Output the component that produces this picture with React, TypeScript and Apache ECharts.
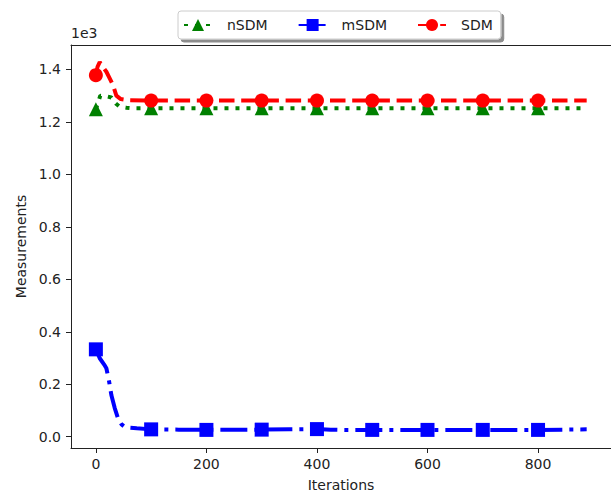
import React, { useEffect, useRef } from "react";
import * as echarts from "echarts";

// Iterations sampled for each method (dense near the start, sparse on the plateau)
const nsdmIter = [0, 8, 18, 28, 36, 43, 55, 65, 100, 200, 300, 400, 500, 600, 700, 800, 888];
const nsdmVal = [1248, 1300, 1298, 1293, 1270, 1258, 1254, 1252, 1252, 1252, 1252, 1252, 1252, 1252, 1252, 1252, 1252];

const msdmIter = [0, 7, 15, 19, 24, 28, 34, 40, 46, 52, 62, 74, 100, 150, 200, 300, 350, 400, 425, 450, 500, 600, 700, 800, 888];
const msdmVal = [333, 299, 275, 261, 210, 159, 110, 70, 48, 38, 34, 32, 28, 27, 26, 27, 28, 29, 27, 26, 26, 26, 26, 26, 28];

const sdmIter = [0, 3, 7, 12, 19, 25, 31, 37, 45, 58, 100, 200, 300, 400, 500, 600, 700, 800, 888];
const sdmVal = [1378, 1410, 1428, 1412, 1391, 1366, 1340, 1300, 1287, 1283, 1281, 1281, 1281, 1281, 1281, 1281, 1281, 1281, 1281];

// Iterations where a marker is drawn
const markerIter = [0, 100, 200, 300, 400, 500, 600, 700, 800];

// Axis ticks
const xTicks = [0, 200, 400, 600, 800];
const yTicks = [0, 200, 400, 600, 800, 1000, 1200, 1400];

const FONT = "DejaVu Sans";
const TEXT = "#222";
const X_MIN = -45;
const X_MAX = 932;

function points(iter: number[], vals: number[], symbol: string) {
  return iter.map((x, i) => ({
    value: [x, vals[i]],
    symbol: markerIter.includes(x) ? symbol : "none",
  }));
}

export default function App() {
  const ref = useRef<HTMLDivElement>(null);

  useEffect(() => {
    document.body.style.margin = "0";
    const chart = echarts.init(ref.current!, null, { renderer: "svg" });
    chart.setOption({
      animation: false,
      backgroundColor: "#fff",
      textStyle: { fontFamily: FONT },
      grid: { left: 71, top: 45, right: 0, bottom: 49, show: false },
      legend: {
        left: 178,
        top: 11,
        orient: "horizontal",
        itemWidth: 28,
        itemHeight: 15,
        itemGap: 30,
        padding: [7, 8, 7, 5],
        backgroundColor: "#fff",
        borderColor: "#ccc",
        borderWidth: 1,
        borderRadius: 3,
        shadowColor: "rgba(0,0,0,0.45)",
        shadowOffsetX: 3,
        shadowOffsetY: 3,
        shadowBlur: 0,
        textStyle: { fontFamily: FONT, fontSize: 14, color: TEXT, padding: [0, 0, 0, 10] },
        data: ["nSDM", "mSDM", "SDM"],
      },
      graphic: [
        {
          type: "text",
          left: 71,
          top: 26,
          style: { text: "1e3", font: `14px "${FONT}"`, fill: TEXT },
        },
      ],
      xAxis: [
        {
          type: "value",
          min: X_MIN,
          max: X_MAX,
          name: "Iterations",
          nameLocation: "middle",
          nameGap: 30,
          nameTextStyle: { fontFamily: FONT, fontSize: 14, color: TEXT },
          axisLine: { show: true, onZero: false, lineStyle: { color: "#222", width: 1 } },
          axisTick: { show: true, length: 5, customValues: xTicks, lineStyle: { color: "#222", width: 1 } },
          axisLabel: { customValues: xTicks, margin: 9, fontFamily: FONT, fontSize: 14, color: TEXT },
          splitLine: { show: false },
        },
        {
          // top spine
          type: "value",
          position: "top",
          min: X_MIN,
          max: X_MAX,
          axisLine: { show: true, onZero: false, lineStyle: { color: "#222", width: 1 } },
          axisTick: { show: false },
          axisLabel: { show: false },
          splitLine: { show: false },
        },
      ],
      yAxis: {
        type: "value",
        min: -43,
        max: 1493,
        name: "Measurements",
        nameLocation: "middle",
        nameGap: 42,
        nameTextStyle: { fontFamily: FONT, fontSize: 14, color: TEXT },
        axisLine: { show: true, onZero: false, lineStyle: { color: "#222", width: 1 } },
        axisTick: { show: true, length: 5, customValues: yTicks, lineStyle: { color: "#222", width: 1 } },
        axisLabel: {
          customValues: yTicks,
          margin: 10,
          fontFamily: FONT,
          fontSize: 14,
          color: TEXT,
          formatter: (v: number) => (v / 1000).toFixed(1),
        },
        splitLine: { show: false },
      },
      series: [
        {
          name: "nSDM",
          type: "line",
          color: "#008000",
          symbol: "triangle",
          symbolSize: 14,
          showAllSymbol: true,
          lineStyle: { width: 4, type: [4, 7], cap: "butt", color: "#008000" },
          itemStyle: { color: "#008000" },
          data: points(nsdmIter, nsdmVal, "triangle"),
        },
        {
          name: "mSDM",
          type: "line",
          color: "#0000ff",
          symbol: "rect",
          symbolSize: 14,
          showAllSymbol: true,
          lineStyle: { width: 4, type: [27, 7, 4, 7], cap: "butt", color: "#0000ff" },
          itemStyle: { color: "#0000ff" },
          data: points(msdmIter, msdmVal, "rect"),
        },
        {
          name: "SDM",
          type: "line",
          color: "#ff0000",
          symbol: "circle",
          symbolSize: 14,
          showAllSymbol: true,
          lineStyle: { width: 4, type: [15.5, 6.7], cap: "butt", color: "#ff0000" },
          itemStyle: { color: "#ff0000" },
          data: points(sdmIter, sdmVal, "circle"),
        },
      ],
    });
    return () => chart.dispose();
  }, []);

  return (
    <div
      ref={ref}
      style={{ position: "absolute", left: 0, top: 0, width: 611, height: 497 }}
    />
  );
}
